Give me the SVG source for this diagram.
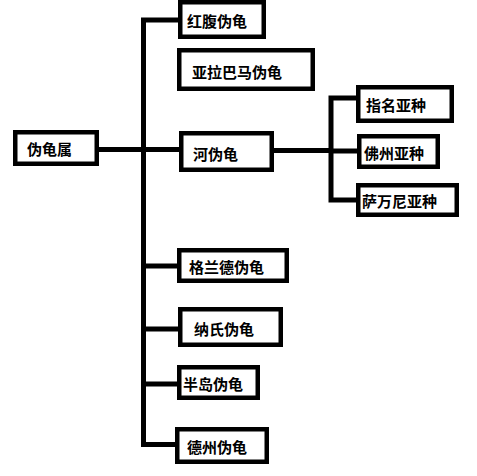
<svg xmlns="http://www.w3.org/2000/svg" width="477" height="476" viewBox="0 0 477 476">
<style>
.box{fill:#fff;stroke:#000;stroke-width:4.5}
.ln{fill:none;stroke:#000;stroke-width:5;stroke-linejoin:miter}
text{font-family:"Noto Sans CJK SC","Noto Sans CJK JP",sans-serif;font-weight:bold;font-size:15px;fill:#000;dominant-baseline:central}
</style>
<rect width="477" height="476" fill="#fff"/>
<g id="connectors">
<path class="ln" d="M99,149.5 H179"/>
<path class="ln" d="M178,20 H143.5 V444.5 H175"/>
<path class="ln" d="M143.5,266 H177"/>
<path class="ln" d="M143.5,329 H178"/>
<path class="ln" d="M143.5,384 H177"/>
<path class="ln" d="M274,150.5 H331"/>
<path class="ln" d="M356,98 H331 V200 H356"/>
<path class="ln" d="M331,151 H357"/>
</g>
<g id="root"><rect class="box" x="15.25" y="132.25" width="81.5" height="31.5"/><text x="27" y="148">伪龟属</text></g>
<g id="n-hongfu"><rect class="box" x="180.25" y="2.25" width="83.5" height="34.5"/><text x="187" y="20">红腹伪龟</text></g>
<g id="n-alabama"><rect class="box" x="179.25" y="50.25" width="133.5" height="38.5"/><text x="192" y="71">亚拉巴马伪龟</text></g>
<g id="n-he"><rect class="box" x="181.25" y="133.25" width="90.5" height="36.5"/><text x="193" y="153">河伪龟</text></g>
<g id="n-zhiming"><rect class="box" x="358.25" y="87.25" width="93.5" height="33.5"/><text x="366" y="104">指名亚种</text></g>
<g id="n-fozhou"><rect class="box" x="359.25" y="136.25" width="78.5" height="30.5"/><text x="364" y="152">佛州亚种</text></g>
<g id="n-sawanni"><rect class="box" x="358.25" y="185.25" width="98.5" height="29.5"/><text x="362" y="200">萨万尼亚种</text></g>
<g id="n-gelande"><rect class="box" x="179.25" y="250.25" width="107.5" height="30.5"/><text x="189" y="266">格兰德伪龟</text></g>
<g id="n-nashi"><rect class="box" x="180.25" y="309.25" width="100.5" height="35.5"/><text x="194" y="328">纳氏伪龟</text></g>
<g id="n-bandao"><rect class="box" x="179.25" y="367.25" width="78.5" height="30.5"/><text x="183" y="383">半岛伪龟</text></g>
<g id="n-dezhou"><rect class="box" x="177.25" y="429.25" width="89.5" height="32.5"/><text x="187" y="446">德州伪龟</text></g>
</svg>
